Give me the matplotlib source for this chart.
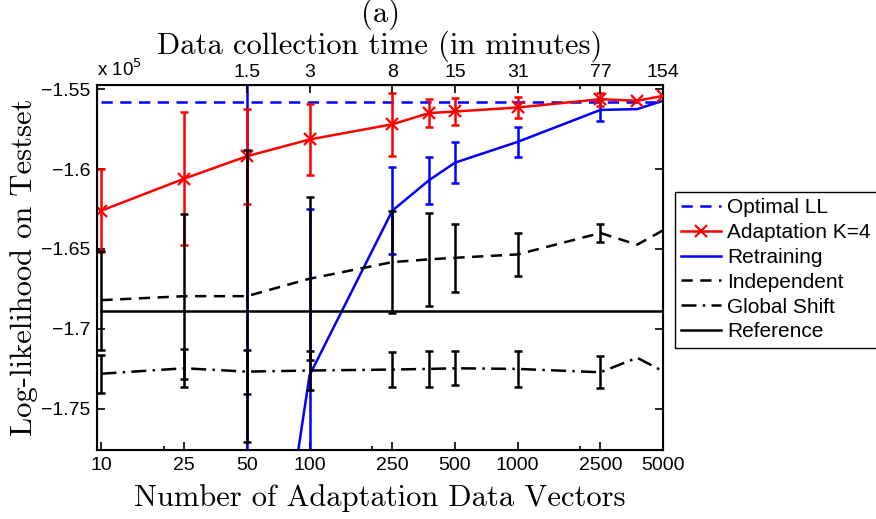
import matplotlib
matplotlib.use("Agg")
import matplotlib.pyplot as plt
from matplotlib.ticker import FixedLocator, NullFormatter, FixedFormatter

# Количество векторов данных для адаптации (ось X, логарифмическая)
n_vectors = [10, 25, 50, 100, 250, 375, 500, 1000, 2500, 3750, 5000]

# Adaptation K=4
adapt_mean = [-1.626, -1.606, -1.592, -1.5815, -1.572, -1.565, -1.564,
              -1.5615, -1.5563, -1.5573, -1.5542]
adapt_err = [0.026, 0.0415, 0.0297, 0.022, 0.0198, 0.0088, 0.0087, 0.0065, 0.004]

# Retraining (при 10 и 25 значения вне графика)
retrain_x = [50, 100, 250, 375, 500, 1000, 2500, 3750, 5000]
retrain_mean = [-1.99, -1.729, -1.626, -1.607, -1.596, -1.583, -1.563,
                -1.5625, -1.5573]
retrain_err = [0.47, 0.104, 0.027, 0.0146, 0.0127, 0.0092, 0.007]

# Independent
indep_mean = [-1.682, -1.6795, -1.6795, -1.6686, -1.6582, -1.6565, -1.6555,
              -1.6534, -1.640, -1.6473, -1.6383]
indep_err = [0.031, 0.0516, 0.0913, 0.0511, 0.032, 0.029, 0.0214, 0.0136, 0.0058]

# Global Shift
shift_mean = [-1.728, -1.7246, -1.7267, -1.726, -1.7254, -1.725, -1.7246,
              -1.725, -1.7271, -1.718, -1.7265]
shift_err = [0.012, 0.012, 0.0138, 0.0125, 0.011, 0.0113, 0.0107, 0.0113, 0.0099]

optimal_ll = -1.558
reference_ll = -1.6885

# Верхняя ось: время сбора данных
bottom_ticks = [10, 25, 50, 100, 250, 500, 1000, 2500, 5000]
top_ticks = [50, 100, 250, 500, 1000, 2500, 5000]
top_labels = ["1.5", "3", "8", "15", "31", "77", "154"]
y_ticks = [-1.75, -1.7, -1.65, -1.6, -1.55]

plt.rcParams["font.family"] = "Liberation Sans"

LW = 1.8
CAP = 3.2
serif = "cmr10"

fig = plt.figure(figsize=(8.76, 5.19), dpi=100)
ax = fig.add_axes([0.111, 0.133, 0.646, 0.703])

ax.plot(n_vectors, [optimal_ll] * len(n_vectors), color="blue", lw=LW,
        ls=(0, (4.5, 3)), label="Optimal LL", zorder=2)

ax.plot(n_vectors, adapt_mean, color="red", lw=LW, marker="x", ms=9, mew=1.6,
        label="Adaptation K=4", zorder=2.6)
ax.errorbar(n_vectors[:len(adapt_err)], adapt_mean[:len(adapt_err)], yerr=adapt_err,
            fmt="none", ecolor="red", elinewidth=LW, capsize=CAP, capthick=LW, zorder=2.6)

ax.plot(retrain_x, retrain_mean, color="blue", lw=LW, label="Retraining", zorder=2.3)
ax.errorbar(retrain_x[:len(retrain_err)], retrain_mean[:len(retrain_err)], yerr=retrain_err,
            fmt="none", ecolor="blue", elinewidth=LW, capsize=CAP, capthick=LW, zorder=2.3)

ax.plot(n_vectors, indep_mean, color="black", lw=LW, ls=(0, (4.5, 3)),
        label="Independent", zorder=3)
ax.errorbar(n_vectors[:len(indep_err)], indep_mean[:len(indep_err)], yerr=indep_err,
            fmt="none", ecolor="black", elinewidth=LW, capsize=CAP, capthick=LW, zorder=3)

ax.plot(n_vectors, shift_mean, color="black", lw=LW, ls=(0, (6, 2.5, 1, 2.5)),
        label="Global Shift", zorder=3)
ax.errorbar(n_vectors[:len(shift_err)], shift_mean[:len(shift_err)], yerr=shift_err,
            fmt="none", ecolor="black", elinewidth=LW, capsize=CAP, capthick=LW, zorder=3)

ax.plot([n_vectors[0], n_vectors[-1]], [reference_ll, reference_ll], color="black",
        lw=LW, label="Reference", zorder=3)

ax.set_xscale("log")
ax.set_xlim(9.55, 5000)
ax.set_ylim(-1.7757, -1.5475)
ax.xaxis.set_major_locator(FixedLocator(bottom_ticks))
ax.xaxis.set_major_formatter(FixedFormatter([str(t) for t in bottom_ticks]))
ax.xaxis.set_minor_locator(FixedLocator([20, 200, 2000]))
ax.xaxis.set_minor_formatter(NullFormatter())
ax.set_yticks(y_ticks)
ax.set_yticklabels([("%g" % v).replace("-", "\u2212") for v in y_ticks])
ax.tick_params(which="both", direction="in", right=True, labelsize=14, width=1.2)
ax.tick_params(which="major", length=6, pad=5)
ax.tick_params(which="minor", length=3)
for s in ax.spines.values():
    s.set_linewidth(1.5)

# верхняя ось
top = ax.twiny()
top.set_xscale("log")
top.set_xlim(ax.get_xlim())
top.xaxis.set_major_locator(FixedLocator(top_ticks))
top.xaxis.set_major_formatter(FixedFormatter(top_labels))
top.xaxis.set_minor_locator(FixedLocator([2000]))
top.xaxis.set_minor_formatter(NullFormatter())
top.tick_params(which="both", direction="in", labelsize=14, width=1.2, pad=3)
top.tick_params(which="major", length=6)
top.tick_params(which="minor", length=3)
top.set_xlabel("Data collection time (in minutes)", fontname=serif, fontsize=22, labelpad=7)
fig.text(0.111, 0.845, r"x 10$^{5}$", fontsize=13.5, ha="left", va="bottom")

ax.set_xlabel("Number of Adaptation Data Vectors", fontname=serif, fontsize=22, labelpad=7)
ax.set_ylabel("Log-likelihood on Testset", fontname=serif, fontsize=22, labelpad=2)
fig.text(0.434, 0.972, "(a)", fontname=serif, fontsize=22, ha="center", va="center")

leg = ax.legend(loc="upper left", bbox_to_anchor=(675 / 876, 1 - 192 / 519),
                bbox_transform=fig.transFigure, fontsize=15, frameon=True,
                fancybox=False, edgecolor="black", framealpha=1, borderpad=0.3,
                labelspacing=0.28, handlelength=1.9, handletextpad=0.3, borderaxespad=0)
leg.get_frame().set_linewidth(1.0)

fig.savefig("out.png", dpi=100)
